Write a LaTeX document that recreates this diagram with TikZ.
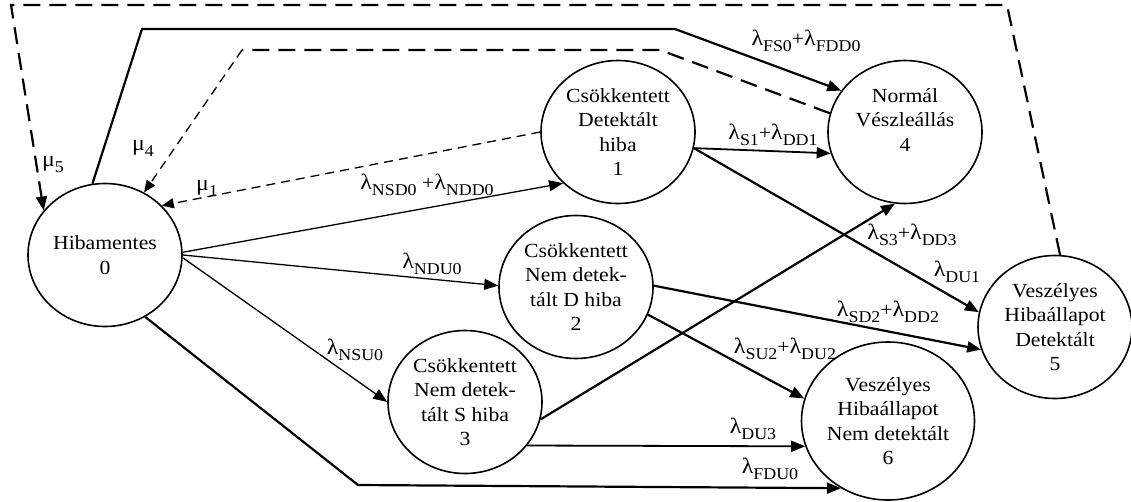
\documentclass[tikz,border=0pt]{standalone}
\usepackage{fontspec}
\setmainfont{Liberation Serif}[FakeStretch=1.085]
\usetikzlibrary{arrows.meta,shapes.geometric}
\newcommand{\sbs}[1]{\raisebox{-6pt}{\fontsize{16.5}{16.5}\selectfont #1}}
\newcommand{\lmb}[1]{{\fontsize{22}{22}\selectfont λ}\sbs{#1}}
\newcommand{\mub}[1]{{\fontsize{22}{22}\selectfont μ}\sbs{#1}}
\begin{document}
\begin{tikzpicture}[x=1pt,y=-1pt,
  state/.style={ellipse, draw, line width=1.6pt, minimum width=154pt, minimum height=143pt,
    inner sep=0pt, align=center, font=\fontsize{20}{24.5}\selectfont},
  lab/.style={font=\fontsize{20}{24}\selectfont, inner sep=0pt},
  tip/.style={-{Triangle[length=14pt,width=11pt]}},
  smalltip/.style={-{Triangle[length=12pt,width=10pt]}},
  thinedge/.style={line width=1.3pt},
  midedge/.style={line width=1.8pt},
  bigedge/.style={line width=2.2pt},
  longdash/.style={line width=2.2pt, dash pattern=on 17pt off 9pt},
  shortdash/.style={line width=1.3pt, dash pattern=on 9pt off 6pt}]
\useasboundingbox (0,0) rectangle (1131,501);

\node[state] (n0) at (105,255) {Hibamentes\\0};
\node[state] (n1) at (618,132) {Csökkentett\\Detektált\\hiba\\1};
\node[state] (n2) at (576,287) {Csökkentett\\Nem detek-\\tált D hiba\\2};
\node[state] (n3) at (465,402) {Csökkentett\\Nem detek-\\tált S hiba\\3};
\node[state] (n4) at (905,132) {Normál\\Vészleállás\\4\\~};
\node[state] (n5) at (1055,327) {Veszélyes\\Hibaállapot\\Detektált\\5};
\node[state, minimum height=158pt] (n6) at (888,421) {Veszélyes\\Hibaállapot\\Nem detektált\\6};

\coordinate (c1) at (142,29);
\coordinate (c2) at (675,29);
\coordinate (d1) at (660,50);
\coordinate (d2) at (242,50);
\coordinate (e1) at (1007,5);
\coordinate (e2) at (11,5);
\coordinate (b06) at (358,485);

% solid transitions
\draw[thinedge,tip] (n0.2) -- (n1.223);
\draw[thinedge,tip] (n0.0) -- (n2.179);
\draw[thinedge,tip] (n0.-2) -- (n3.180);
\draw[bigedge,tip] (n0.-57) -- (b06) -- (n6.235);
\draw[bigedge,tip] (n0.100) -- (c1) -- (c2) -- (n4.147);
\draw[midedge,tip] (n1.-12) -- (n4.196);
\draw[bigedge,tip] (n1.-12) -- (n5.169);
\draw[bigedge,tip] (n2.1) -- (n5.197);
\draw[bigedge,tip] (n2.-21) -- (n6.165);
\draw[bigedge,tip] (n3.-13) -- (n4.262);
\draw[midedge,tip] (n3.-35) -- (n6.197);

% repairs (dashed)
\draw[longdash,tip] (n5.86) -- (e1) -- (e2) -- (n0.144);
\draw[longdash] (n4.166) -- (d1) -- (d2);
\draw[shortdash,smalltip] (d2) -- (n0.58);
\draw[shortdash,smalltip] (n1.180) -- (n0.41);

% labels
\node[lab] (m5) at (53,165) {\mub{5}};
\node[lab] (m4) at (143,148) {\mub{4}};
\node[lab] (m1) at (207,188) {\mub{1}};
\node[lab] (l01) at (427,185) {\lmb{NSD0} +\lmb{NDD0}};
\node[lab] (l02) at (432,264) {\lmb{NDU0}};
\node[lab] (l03) at (355,350) {\lmb{NSU0}};
\node[lab] (l04) at (806,41) {\lmb{FS0}+\lmb{FDD0}};
\node[lab] (l14) at (773,135) {\lmb{S1}+\lmb{DD1}};
\node[lab] (l34) at (912,235) {\lmb{S3}+\lmb{DD3}};
\node[lab] (l15) at (957,272) {\lmb{DU1}};
\node[lab] (l25) at (888,312) {\lmb{SD2}+\lmb{DD2}};
\node[lab] (l26) at (785,349) {\lmb{SU2}+\lmb{DU2}};
\node[lab] (l36) at (753,429) {\lmb{DU3}};
\node[lab] (l06) at (770,469) {\lmb{FDU0}};
\end{tikzpicture}
\end{document}
